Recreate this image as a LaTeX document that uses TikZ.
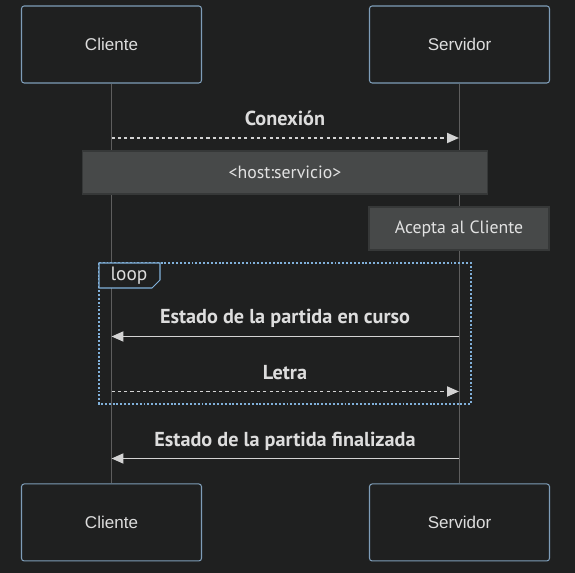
\documentclass[tikz,border=0pt]{standalone}
\usepackage{fontspec}
\setmainfont{Liberation Sans}
\newfontfamily\msgfont{PT Sans}
\usetikzlibrary{positioning, arrows.meta}
\definecolor{bgdark}{HTML}{1F2020}
\definecolor{actorline}{HTML}{7E9DB8}
\definecolor{lifegrey}{HTML}{5E5E5E}
\definecolor{notefill}{HTML}{474949}
\definecolor{noteline}{HTML}{363838}
\definecolor{msgtext}{HTML}{DDDDDD}
\definecolor{arrowgrey}{HTML}{D3D3D3}
\definecolor{loopblue}{HTML}{81B1DB}
\tikzset{
	x=0.02cm, y=-0.02cm,
	node distance=3.34cm and 3.34cm,
	actor/.style= {
		rectangle,
		rounded corners=1.5pt,
		draw=actorline,
		line width=0.6pt,
		fill=bgdark,
		text=msgtext,
		font=\fontsize{9.7}{11}\selectfont,
		minimum width=3.6cm,
		minimum height=1.54cm
	},
	note/.style= {
		rectangle,
		draw=noteline,
		line width=0.6pt,
		fill=notefill,
		text=msgtext!85,
		font=\msgfont\fontsize{10.1}{12}\selectfont,
		minimum height=0.86cm
	},
	msglabel/.style= {
		anchor=base,
		text=msgtext,
		font=\msgfont\bfseries\fontsize{11.5}{13}\selectfont
	},
	lifeline/.style={lifegrey, line width=0.8pt},
	msg/.style={arrowgrey, line width=1.1pt, -{Triangle[length=0.24cm, width=0.2cm]}},
	reply/.style={msg, dash pattern=on 1.8pt off 1.8pt},
	loopframe/.style={loopblue, line width=1.1pt, dash pattern=on 1.1pt off 1.1pt},
}

\begin{document}
\begin{tikzpicture}
	\fill[bgdark] (0,0) rectangle (575,573);
	\useasboundingbox (0,0) rectangle (575,573);

	\node (cliTop) [actor] at (111.5,44.5) {Cliente};
	\node (srvTop) [actor, right = of cliTop] {Servidor};
	\node (cliBot) [actor, below = 8cm of cliTop] {Cliente};
	\node (srvBot) [actor, below = 8cm of srvTop] {Servidor};

	\draw[lifeline] (cliTop) to (cliBot);
	\draw[lifeline] (srvTop) to (srvBot);

	% Conexión
	\coordinate (cli1) at (111.5,138);
	\coordinate (srv1) at (459,138);
	\node (conexion) [msglabel] at (285,126) {Conexión};
	\draw[reply] (cli1) to (srv1);

	\node (host) [note, minimum width=8.12cm] at (285,172.5) {<host:servicio>};
	\node (acepta) [note, minimum width=3.6cm] at (459,228.5) {Acepta al Cliente};

	% loop
	\draw[loopframe] (99,263) rectangle (471,404);
	\draw[loopblue, line width=0.6pt, fill=bgdark] (99,263) -- (160,263) -- (160,280) -- (152,288) -- (99,288) -- cycle;
	\node (loop) [text=msgtext, font=\msgfont\fontsize{11}{13}\selectfont] at (129,276) {loop};

	\coordinate (srv2) at (459,336.5);
	\coordinate (cli2) at (111.5,336.5);
	\node (encurso) [msglabel] at (285,324) {Estado de la partida en curso};
	\draw[msg] (srv2) to (cli2);

	\coordinate (cli3) at (111.5,391.5);
	\coordinate (srv3) at (459,391.5);
	\node (letra) [msglabel] at (285,380) {Letra};
	\draw[reply] (cli3) to (srv3);

	% final
	\coordinate (srv4) at (459,458.5);
	\coordinate (cli4) at (111.5,458.5);
	\node (final) [msglabel] at (285,447) {Estado de la partida finalizada};
	\draw[msg] (srv4) to (cli4);
\end{tikzpicture}
\end{document}
